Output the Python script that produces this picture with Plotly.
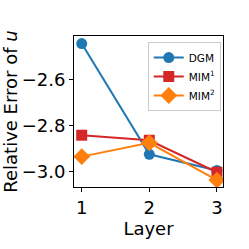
import plotly.graph_objects as go

layers = [1, 2, 3]
dgm = [-2.445, -2.926, -2.996]
mim1 = [-2.843, -2.865, -3.004]
mim2 = [-2.936, -2.876, -3.038]
names = ["DGM", "MIM<sup>1</sup>", "MIM<sup>2</sup>"]
colors = ["#1f77b4", "#d62728", "#ff7f0e"]
symbols = ["circle", "square", "diamond"]
sizes = [11, 11, 13]

fig = go.Figure()
for ys, n, c, s, sz in zip([dgm, mim1, mim2], names, colors, symbols, sizes):
    fig.add_trace(go.Scatter(x=layers, y=ys, name=n, mode="lines+markers",
                             line=dict(color=c, width=2),
                             marker=dict(color=c, symbol=s, size=sz, line=dict(width=0))))

font = "DejaVu Sans, sans-serif"
fig.update_layout(
    width=249, height=249,
    margin=dict(l=74, r=26, t=36, b=62, autoexpand=False),
    paper_bgcolor="white", plot_bgcolor="white",
    font=dict(family=font, size=18, color="black"),
    showlegend=True,
    legend=dict(x=0.985, y=0.96, xanchor="right", yanchor="top",
                bgcolor="white", bordercolor="#cccccc", borderwidth=1,
                font=dict(size=10.5), itemwidth=30, tracegroupgap=0),
)
fig.update_xaxes(range=[0.886, 3.09], tickvals=[1, 2, 3], showgrid=False, zeroline=False,
                 automargin=False,
                 showline=True, linecolor="black", linewidth=1, mirror=True,
                 ticks="outside", ticklen=4, tickcolor="black",
                 title=dict(text="Layer", standoff=2, font=dict(size=18)))
fig.update_yaxes(range=[-3.068, -2.412], tickvals=[-3.0, -2.8, -2.6], tickformat=".1f",
                 showgrid=False, zeroline=False, automargin=False,
                 showline=True, linecolor="black", linewidth=1, mirror=True,
                 ticks="outside", ticklen=4, tickcolor="black",
                 title=dict(text="Relative Error of <i>u</i>", standoff=10, font=dict(size=18)))

fig.write_html("out.html", config={"displayModeBar": False},
               post_script="document.body.style.margin='0';document.body.style.overflow='hidden';")
